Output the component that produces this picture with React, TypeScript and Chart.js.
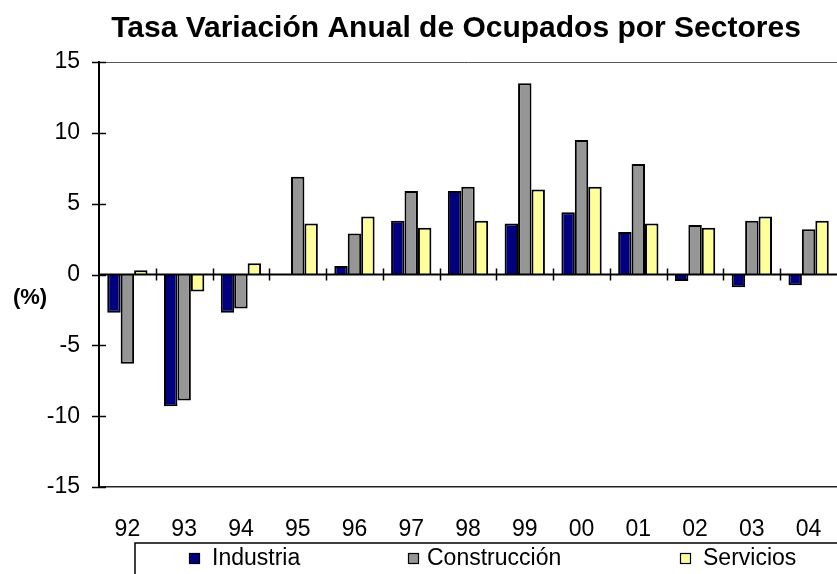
import React, { useEffect, useRef } from "react";
import { Chart, registerables } from "chart.js";

Chart.register(...registerables);

const categories = ["92", "93", "94", "95", "96", "97", "98", "99", "00", "01", "02", "03", "04"];
const industria = [-2.7, -9.3, -2.7, 0, 0.6, 3.8, 5.9, 3.6, 4.4, 3.0, -0.45, -0.9, -0.75];
const construccion = [-6.3, -8.9, -2.4, 6.9, 2.9, 5.9, 6.2, 13.5, 9.5, 7.8, 3.5, 3.8, 3.2];
const servicios = [0.3, -1.2, 0.8, 3.6, 4.1, 3.3, 3.8, 6.0, 6.2, 3.6, 3.3, 4.1, 3.8];
const seriesNames = ["Industria", "Construcción", "Servicios"];
const seriesColors = ["#000080", "#969696", "#FFFF99"];
const titleText = "Tasa Variación Anual de Ocupados por Sectores";
const yUnitLabel = "(%)";

const FONT = '"Liberation Sans", Arial, Helvetica, sans-serif';

const legendLayout = {
  box: { x: 135, y: 543, w: 800, h: 60 },
  squares: [189, 408, 680],
  texts: [212, 427, 703],
  sqY: 553,
  sqSize: 11,
  textY: 559,
};

const decorPlugin = {
  id: "decor",
  afterDatasetsDraw(chart: any) {
    const ctx = chart.ctx;
    const x = chart.scales.x;
    const y = chart.scales.y;
    const area = chart.chartArea;
    const zeroY = y.getPixelForValue(0);
    ctx.save();
    // zero line (category axis)
    ctx.strokeStyle = "#000";
    ctx.lineWidth = 2;
    ctx.beginPath();
    ctx.moveTo(area.left, zeroY);
    ctx.lineTo(area.right, zeroY);
    ctx.stroke();
    // category tick marks crossing the zero line
    ctx.lineWidth = 1.5;
    for (let i = 1; i < categories.length; i++) {
      const px = Math.round((x.getPixelForValue(i - 1) + x.getPixelForValue(i)) / 2) + 0.5;
      ctx.beginPath();
      ctx.moveTo(px, zeroY - 6);
      ctx.lineTo(px, zeroY + 6);
      ctx.stroke();
    }
    // value axis tick marks crossing the axis
    ctx.lineWidth = 1.5;
    for (const t of y.ticks) {
      const py = Math.round(y.getPixelForValue(t.value)) + 0.5;
      ctx.beginPath();
      ctx.moveTo(area.left - 7, py);
      ctx.lineTo(area.left + 7, py);
      ctx.stroke();
    }
    ctx.restore();
  },
  afterDraw(chart: any) {
    const ctx = chart.ctx;
    const y = chart.scales.y;
    ctx.save();
    // title
    ctx.fillStyle = "#000";
    ctx.font = `bold 30px ${FONT}`;
    ctx.textAlign = "center";
    ctx.textBaseline = "alphabetic";
    ctx.fillText(titleText, 456, 37);
    // unit label
    ctx.font = `bold 22px ${FONT}`;
    ctx.textBaseline = "middle";
    ctx.fillText(yUnitLabel, 30, y.getPixelForValue(0) + 23);
    // legend
    const L = legendLayout;
    ctx.strokeStyle = "#000";
    ctx.lineWidth = 1.5;
    ctx.strokeRect(L.box.x, L.box.y, L.box.w, L.box.h);
    ctx.font = `23px ${FONT}`;
    ctx.textAlign = "left";
    ctx.textBaseline = "middle";
    chart.data.datasets.forEach((ds: any, i: number) => {
      ctx.fillStyle = ds.backgroundColor;
      ctx.fillRect(L.squares[i], L.sqY, L.sqSize, L.sqSize);
      ctx.lineWidth = 1.2;
      ctx.strokeStyle = "#000";
      ctx.strokeRect(L.squares[i] + 0.5, L.sqY + 0.5, L.sqSize - 1, L.sqSize - 1);
      ctx.fillStyle = "#000";
      ctx.fillText(ds.label, L.texts[i], L.textY);
    });
    ctx.restore();
  },
};

export default function App() {
  const ref = useRef<HTMLCanvasElement | null>(null);
  useEffect(() => {
    document.body.style.margin = "0";
    const canvas = ref.current;
    if (!canvas) return;
    const values = [industria, construccion, servicios];
    const chart = new Chart(canvas, {
      type: "bar",
      data: {
        labels: categories,
        datasets: values.map((v, i) => ({
          label: seriesNames[i],
          data: v,
          backgroundColor: seriesColors[i],
          borderColor: "#000",
          borderWidth: 2,
          categoryPercentage: 0.71,
          barPercentage: 1,
        })),
      },
      options: {
        animation: false,
        responsive: false,
        maintainAspectRatio: false,
        layout: { autoPadding: false, padding: { top: 62, left: 0, right: 0, bottom: 0 } },
        plugins: {
          legend: { display: false },
          title: { display: false },
          tooltip: { enabled: false },
        },
        scales: {
          x: {
            grid: { display: false },
            border: { display: true, color: "#222", width: 1.5 },
            ticks: {
              color: "#000",
              font: { family: FONT, size: 23 },
              padding: 21,
              maxRotation: 0,
              autoSkip: false,
            },
            afterFit: (s: any) => {
              s.height = 87;
              s.paddingLeft = 0;
              s.paddingRight = 0;
            },
          },
          y: {
            min: -15,
            max: 15,
            grid: {
              drawTicks: false,
              color: (c: any) => (c.tick && c.tick.value === 15 ? "#555" : "rgba(0,0,0,0)"),
              lineWidth: 1,
            },
            border: { display: true, color: "#000", width: 2 },
            ticks: {
              stepSize: 5,
              color: "#000",
              font: { family: FONT, size: 23 },
              padding: 19,
            },
            afterFit: (s: any) => {
              s.width = 99;
            },
          },
        },
      },
      plugins: [decorPlugin],
    });
    return () => chart.destroy();
  }, []);
  return (
    <div style={{ width: 837, height: 574 }}>
      <canvas ref={ref} width={837} height={574} />
    </div>
  );
}
